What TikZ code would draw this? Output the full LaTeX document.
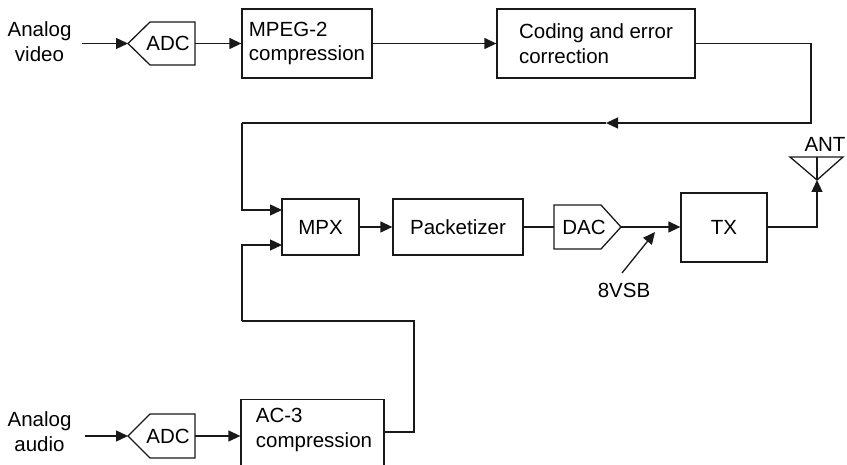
\documentclass[tikz,border=0pt]{standalone}
\usepackage{fontspec}
\setmainfont{Liberation Sans}
\usetikzlibrary{arrows.meta}
\definecolor{ln}{RGB}{25,25,25}
\tikzset{
  x=1pt, y=-1pt,
  every node/.style={font=\fontsize{20.5}{24.5}\selectfont, text=black, inner sep=0pt},
  wire/.style={draw=ln, line width=1.3pt},
  arr/.style={wire, -{Triangle[length=12pt,width=11pt]}},
  blk/.style={draw=ln, line width=1.3pt, rectangle, align=left},
  lbl/.style={align=center}
}
\begin{document}
\begin{tikzpicture}
\useasboundingbox (0,0) rectangle (847,465);
\clip (0,0) rectangle (847,465);
% ---- video chain
\node[lbl] (vin) at (39.5,41.5) {Analog\\video};
\coordinate (vinend) at (82,43.5);
\draw[wire, line join=miter] (128,43.5) -- (150,22) -- (195,22) -- (195,65) -- (150,65) -- cycle;
\coordinate (adc1w) at (128,43.5);
\coordinate (adc1e) at (195,43.5);
\node (adc1) at (168,43.5) {ADC};
\node[blk, minimum width=130pt, minimum height=69pt] (mpeg) at (307,43.5) {MPEG-2\\compression};
\node[blk, minimum width=198pt, minimum height=69pt] (coding) at (596,43.5) {Coding and error\\correction};
\draw[arr] (vinend) -- (adc1w);
\draw[arr] (adc1e) -- (mpeg.west);
\draw[arr] (mpeg.east) -- (coding.west);
% ---- feedback to MPX
\coordinate (fbR) at (811,123);
\coordinate (fbM) at (606,123);
\coordinate (fbL) at (242,123);
\node[blk, align=center, minimum width=77pt, minimum height=56pt] (mpx) at (320.5,227) {MPX};
\coordinate (mpxin1) at (282,210);
\coordinate (mpxin2) at (282,245);
\draw[arr] (coding.east) -| (fbR) -- (fbM);
\draw[wire] (fbM) -- (fbL);
\draw[arr] (fbL) |- (mpxin1);
% ---- main line
\node[blk, align=center, minimum width=130pt, minimum height=56pt] (pack) at (458,227) {Packetizer};
\draw[arr] (mpx.east) -- (pack.west);
\draw[wire, line join=miter] (554,205) -- (601,205) -- (621,227) -- (601,249) -- (554,249) -- cycle;
\coordinate (dacw) at (554,227);
\coordinate (dace) at (621,227);
\node (dac) at (584,227) {DAC};
\draw[wire] (pack.east) -- (dacw);
\node[blk, align=center, minimum width=86pt, minimum height=69pt] (tx) at (724,227.5) {TX};
\draw[arr] (dace) -- (tx.west |- dace);
\node (vsb) at (624,290) {8VSB};
\coordinate (vsbs) at (622,273);
\coordinate (vsbe) at (655,232);
\draw[arr] (vsbs) -- (vsbe);
% ---- antenna
\coordinate (antapex) at (817,180);
\coordinate (anttop) at (817,157);
\draw[wire, line join=miter] (790,157) -- (843,157) -- (antapex) -- cycle;
\draw[wire] (anttop) -- (antapex);
\node (ant) at (825,144) {ANT};
\coordinate (antR) at (817,227);
\draw[arr] (tx.east |- antR) -- (antR) -- (antapex);
% ---- audio chain
\node[lbl] (ain) at (39.5,431.5) {Analog\\audio};
\coordinate (ainend) at (85,436);
\draw[wire, line join=miter] (128,436) -- (150,414) -- (195,414) -- (195,458) -- (150,458) -- cycle;
\coordinate (adc2w) at (128,436);
\coordinate (adc2e) at (195,436);
\node (adc2) at (168,436) {ADC};
\node[blk, anchor=north, minimum width=143pt, minimum height=75pt] (ac3) at (312.5,399) {};
\node[align=left] (ac3txt) at (314,430) {AC-3\\compression};
\draw[arr] (ainend) -- (adc2w);
\draw[arr] (adc2e) -- (ac3.west |- adc2e);
\coordinate (ac3out) at (384,432);
\coordinate (abR) at (414,321);
\coordinate (abL) at (242,321);
\draw[wire] (ac3out) -| (abR) -- (abL);
\draw[arr] (abL) |- (mpxin2);
\end{tikzpicture}
\end{document}
